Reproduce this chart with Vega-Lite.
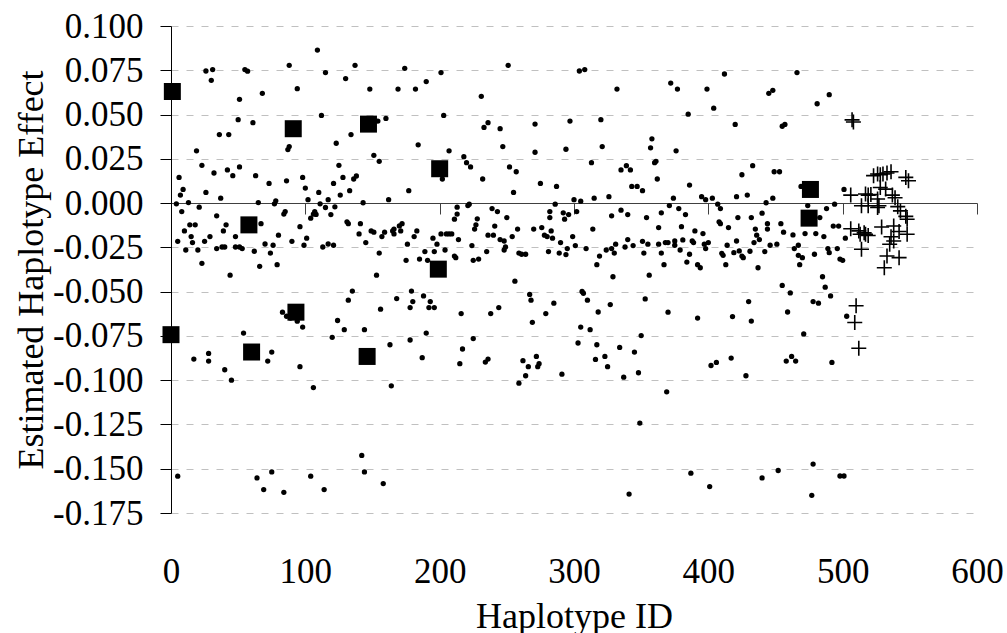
{
  "$schema": "https://vega.github.io/schema/vega-lite/v6.json",
  "width": 806,
  "height": 487,
  "autosize": "none",
  "padding": {"left": 171, "top": 26, "right": 30, "bottom": 120},
  "background": "white",
  "config": {
    "font": "Liberation Serif",
    "view": {"stroke": null},
    "axis": {
      "labelFont": "Liberation Serif",
      "titleFont": "Liberation Serif",
      "labelColor": "black",
      "titleColor": "black",
      "titleFontWeight": "normal",
      "labelFontSize": 35,
      "titleFontSize": 36,
      "labelFlush": false,
      "labelOverlap": false
    }
  },
  "datasets": {
    "dots": [
      {"id":109,"effect":0.0864},{"id":88,"effect":0.0778},{"id":26,"effect":0.0746},{"id":31,"effect":0.0754},{"id":30,"effect":0.0693},
      {"id":55,"effect":0.0754},{"id":57,"effect":0.0745},{"id":115,"effect":0.0737},{"id":94,"effect":0.0646},{"id":68,"effect":0.062},
      {"id":51,"effect":0.0586},{"id":112,"effect":0.0495},{"id":50,"effect":0.0471},{"id":61,"effect":0.0454},{"id":36,"effect":0.0387},
      {"id":43,"effect":0.0387},{"id":123,"effect":0.0338},{"id":88,"effect":0.0319},{"id":87,"effect":0.0302},{"id":19,"effect":0.0295},
      {"id":23,"effect":0.0213},{"id":51,"effect":0.0204},{"id":125,"effect":0.0213},{"id":42,"effect":0.0187},{"id":46,"effect":0.0155},
      {"id":32,"effect":0.017},{"id":6,"effect":0.0145},{"id":63,"effect":0.0155},{"id":86,"effect":0.0126},{"id":98,"effect":0.0145},
      {"id":73,"effect":0.0111},{"id":121,"effect":0.0111},{"id":9,"effect":0.0077},{"id":7,"effect":0.0045},{"id":26,"effect":0.006},
      {"id":100,"effect":0.0085},{"id":110,"effect":0.006},{"id":37,"effect":0.0028},{"id":102,"effect":0.0019},{"id":117,"effect":0.0019},
      {"id":126,"effect":0.0045},{"id":4,"effect":-0.0004},{"id":13,"effect":0.0003},{"id":65,"effect":0.0003},{"id":78,"effect":0.0013},
      {"id":77,"effect":-0.0004},{"id":111,"effect":-0.0004},{"id":8,"effect":-0.0048},{"id":21,"effect":-0.0023},{"id":34,"effect":-0.0072},
      {"id":85,"effect":-0.0048},{"id":84,"effect":-0.0062},{"id":107,"effect":-0.0048},{"id":106,"effect":-0.0062},{"id":108,"effect":-0.0064},
      {"id":115,"effect":-0.0025},{"id":104,"effect":-0.0085},{"id":119,"effect":-0.0065},{"id":122,"effect":-0.0021},
      {"id":96,"effect":-0.0133},{"id":67,"effect":-0.0116},{"id":14,"effect":-0.0123},{"id":18,"effect":-0.0123},{"id":10,"effect":-0.0157},
      {"id":41,"effect":-0.0123},{"id":39,"effect":-0.0157},{"id":15,"effect":-0.0189},{"id":29,"effect":-0.0189},{"id":48,"effect":-0.0189},
      {"id":80,"effect":-0.0181},{"id":101,"effect":-0.0198},{"id":5,"effect":-0.0216},{"id":16,"effect":-0.0223},{"id":25,"effect":-0.0216},
      {"id":90,"effect":-0.0216},{"id":11,"effect":-0.0265},{"id":20,"effect":-0.0265},{"id":34,"effect":-0.0257},{"id":38,"effect":-0.0248},
      {"id":40,"effect":-0.0248},{"id":48,"effect":-0.0248},{"id":53,"effect":-0.0257},{"id":51,"effect":-0.0248},{"id":62,"effect":-0.0272},
      {"id":70,"effect":-0.0231},{"id":76,"effect":-0.0238},{"id":74,"effect":-0.0282},{"id":99,"effect":-0.0238},{"id":113,"effect":-0.0248},
      {"id":117,"effect":-0.0231},{"id":121,"effect":-0.0238},{"id":23,"effect":-0.034},{"id":66,"effect":-0.0357},{"id":79,"effect":-0.0348},
      {"id":44,"effect":-0.0407},{"id":83,"effect":-0.0616},{"id":86,"effect":-0.0639},{"id":89,"effect":-0.0649},{"id":94,"effect":-0.0667},
      {"id":98,"effect":-0.07},{"id":124,"effect":-0.0663},{"id":120,"effect":-0.0758},{"id":54,"effect":-0.0734},{"id":75,"effect":-0.0841},
      {"id":17,"effect":-0.0881},{"id":28,"effect":-0.0849},{"id":28,"effect":-0.0892},{"id":72,"effect":-0.0892},{"id":96,"effect":-0.0924},
      {"id":40,"effect":-0.0941},{"id":45,"effect":-0.1},{"id":106,"effect":-0.1042},
      {"id":5,"effect":-0.1542},{"id":64,"effect":-0.1552},{"id":75,"effect":-0.1518},{"id":69,"effect":-0.1618},{"id":84,"effect":-0.1633},
      {"id":104,"effect":-0.1542},{"id":114,"effect":-0.1618},{"id":142,"effect":-0.1425},{"id":144,"effect":-0.1518},{"id":158,"effect":-0.1584},
      {"id":341,"effect":-0.1643},{"id":349,"effect":-0.1242},{"id":387,"effect":-0.1525},{"id":401,"effect":-0.1601},{"id":440,"effect":-0.1552},
      {"id":452,"effect":-0.151},{"id":478,"effect":-0.1474},{"id":477,"effect":-0.165},{"id":498,"effect":-0.1541},{"id":501,"effect":-0.1541},
      {"id":137,"effect":0.0778},{"id":174,"effect":0.0761},{"id":201,"effect":0.0737},{"id":251,"effect":0.0778},{"id":304,"effect":0.0746},
      {"id":308,"effect":0.0754},{"id":372,"effect":0.0678},{"id":130,"effect":0.0703},{"id":148,"effect":0.0644},{"id":169,"effect":0.0644},
      {"id":182,"effect":0.0644},{"id":190,"effect":0.0686},{"id":332,"effect":0.0644},{"id":231,"effect":0.0603},{"id":203,"effect":0.0495},
      {"id":154,"effect":0.0463},{"id":160,"effect":0.0478},{"id":134,"effect":0.0387},{"id":233,"effect":0.0427},{"id":236,"effect":0.0454},
      {"id":245,"effect":0.042},{"id":271,"effect":0.0446},{"id":297,"effect":0.0463},{"id":320,"effect":0.0471},{"id":358,"effect":0.0363},
      {"id":357,"effect":0.0312},{"id":184,"effect":0.0329},{"id":247,"effect":0.0319},{"id":207,"effect":0.0295},{"id":271,"effect":0.0287},
      {"id":294,"effect":0.0304},{"id":321,"effect":0.0319},{"id":151,"effect":0.027},{"id":155,"effect":0.0236},{"id":202,"effect":0.0136},
      {"id":218,"effect":0.0262},{"id":220,"effect":0.0228},{"id":223,"effect":0.0204},{"id":128,"effect":0.0145},{"id":136,"effect":0.0136},
      {"id":138,"effect":0.0153},{"id":133,"effect":0.007},{"id":143,"effect":0.0002},{"id":162,"effect":0.0019},{"id":177,"effect":0.007},
      {"id":232,"effect":0.0136},{"id":252,"effect":0.0204},{"id":257,"effect":0.0177},{"id":255,"effect":0.006},{"id":275,"effect":0.0111},
      {"id":287,"effect":0.0094},{"id":286,"effect":-0.0006},{"id":300,"effect":0.0019},{"id":305,"effect":0.0011},{"id":313,"effect":0.0228},
      {"id":335,"effect":0.0187},{"id":339,"effect":0.0211},{"id":342,"effect":0.0187},{"id":343,"effect":0.0094},{"id":347,"effect":0.0094},
      {"id":351,"effect":0.007},{"id":360,"effect":0.0228},{"id":361,"effect":0.0236},{"id":362,"effect":0.0136},{"id":315,"effect":0.0028},
      {"id":326,"effect":0.0036},{"id":371,"effect":-0.0014},{"id":213,"effect":-0.0023},{"id":213,"effect":-0.0062},{"id":211,"effect":-0.0091},
      {"id":221,"effect":-0.0014},{"id":222,"effect":-0.0006},{"id":228,"effect":-0.0089},{"id":239,"effect":-0.0031},{"id":243,"effect":-0.0048},
      {"id":250,"effect":-0.0082},{"id":282,"effect":-0.0048},{"id":282,"effect":-0.0082},{"id":292,"effect":-0.0055},{"id":296,"effect":-0.0065},
      {"id":293,"effect":-0.0091},{"id":302,"effect":-0.0048},{"id":328,"effect":-0.0072},{"id":335,"effect":-0.004},{"id":340,"effect":-0.0065},
      {"id":354,"effect":-0.0082},{"id":365,"effect":-0.0055},
      {"id":227,"effect":-0.0123},{"id":226,"effect":-0.0147},{"id":241,"effect":-0.013},{"id":236,"effect":-0.0181},{"id":240,"effect":-0.0181},
      {"id":254,"effect":-0.0189},{"id":258,"effect":-0.0147},{"id":245,"effect":-0.0206},{"id":248,"effect":-0.0214},{"id":249,"effect":-0.0248},
      {"id":248,"effect":-0.0265},{"id":235,"effect":-0.0274},{"id":229,"effect":-0.0316},{"id":225,"effect":-0.0323},{"id":224,"effect":-0.024},
      {"id":214,"effect":-0.0206},{"id":211,"effect":-0.0299},{"id":212,"effect":-0.0308},{"id":204,"effect":-0.0265},{"id":201,"effect":-0.0174},
      {"id":205,"effect":-0.0174},{"id":207,"effect":-0.0174},{"id":209,"effect":-0.0174},{"id":195,"effect":-0.0198},{"id":198,"effect":-0.0232},
      {"id":196,"effect":-0.0274},{"id":189,"effect":-0.0274},{"id":185,"effect":-0.0316},{"id":191,"effect":-0.0323},{"id":175,"effect":-0.0323},
      {"id":176,"effect":-0.0232},{"id":181,"effect":-0.0189},{"id":183,"effect":-0.0157},{"id":166,"effect":-0.0174},{"id":165,"effect":-0.0157},
      {"id":166,"effect":-0.0147},{"id":170,"effect":-0.0129},{"id":172,"effect":-0.0116},{"id":171,"effect":-0.0157},{"id":159,"effect":-0.0164},
      {"id":157,"effect":-0.0189},{"id":149,"effect":-0.0157},{"id":151,"effect":-0.0164},{"id":141,"effect":-0.0116},{"id":140,"effect":-0.0174},
      {"id":131,"effect":-0.0106},{"id":132,"effect":-0.0116},{"id":145,"effect":-0.0223},{"id":155,"effect":-0.0282},{"id":153,"effect":-0.0407},
      {"id":135,"effect":-0.0497},{"id":132,"effect":-0.0548},{"id":156,"effect":-0.0599},{"id":179,"effect":-0.0497},{"id":180,"effect":-0.0556},
      {"id":178,"effect":-0.059},{"id":168,"effect":-0.0539},{"id":188,"effect":-0.0524},{"id":193,"effect":-0.0556},{"id":192,"effect":-0.059},
      {"id":196,"effect":-0.059},{"id":129,"effect":-0.0715},{"id":144,"effect":-0.0715},{"id":190,"effect":-0.0734},{"id":178,"effect":-0.0773},
      {"id":163,"effect":-0.08},{"id":187,"effect":-0.0873},{"id":164,"effect":-0.1032},{"id":216,"effect":-0.0624},{"id":238,"effect":-0.0624},
      {"id":244,"effect":-0.059},{"id":225,"effect":-0.0765},{"id":217,"effect":-0.0824},{"id":215,"effect":-0.0907},{"id":234,"effect":-0.0898},
      {"id":236,"effect":-0.0881},{"id":256,"effect":-0.0441},{"id":259,"effect":-0.0282},{"id":261,"effect":-0.0289},{"id":264,"effect":-0.0289},
      {"id":270,"effect":-0.0147},{"id":276,"effect":-0.0138},{"id":278,"effect":-0.0181},{"id":280,"effect":-0.0189},{"id":283,"effect":-0.0157},
      {"id":284,"effect":-0.0198},{"id":281,"effect":-0.0274},{"id":290,"effect":-0.0223},{"id":289,"effect":-0.0282},{"id":294,"effect":-0.0291},
      {"id":295,"effect":-0.0257},{"id":299,"effect":-0.0189},{"id":301,"effect":-0.024},{"id":309,"effect":-0.0257},{"id":314,"effect":-0.0147},
      {"id":319,"effect":-0.0299},{"id":317,"effect":-0.0348},{"id":324,"effect":-0.0265},{"id":328,"effect":-0.0257},{"id":330,"effect":-0.0282},
      {"id":331,"effect":-0.0232},{"id":329,"effect":-0.0416},{"id":338,"effect":-0.0248},{"id":340,"effect":-0.0206},{"id":344,"effect":-0.024},
      {"id":351,"effect":-0.0216},{"id":352,"effect":-0.0282},{"id":355,"effect":-0.0232},{"id":356,"effect":-0.0407},{"id":363,"effect":-0.0138},
      {"id":363,"effect":-0.0232},{"id":365,"effect":-0.0282},{"id":367,"effect":-0.0348},{"id":368,"effect":-0.0223},{"id":370,"effect":-0.0223},
      {"id":267,"effect":-0.0516},{"id":268,"effect":-0.0548},{"id":269,"effect":-0.0673},{"id":279,"effect":-0.0624},{"id":285,"effect":-0.0565},
      {"id":306,"effect":-0.0499},{"id":307,"effect":-0.0509},{"id":310,"effect":-0.0548},{"id":318,"effect":-0.0615},{"id":327,"effect":-0.0573},
      {"id":305,"effect":-0.07},{"id":312,"effect":-0.0715},{"id":303,"effect":-0.079},{"id":317,"effect":-0.08},{"id":353,"effect":-0.0541},
      {"id":370,"effect":-0.0616},{"id":350,"effect":-0.0748},{"id":334,"effect":-0.0815},{"id":345,"effect":-0.0841},{"id":316,"effect":-0.0883},
      {"id":323,"effect":-0.0866},{"id":325,"effect":-0.0924},{"id":262,"effect":-0.089},{"id":266,"effect":-0.0924},{"id":272,"effect":-0.0866},
      {"id":274,"effect":-0.0907},{"id":273,"effect":-0.0924},{"id":264,"effect":-0.0975},{"id":259,"effect":-0.1017},{"id":291,"effect":-0.0966},
      {"id":337,"effect":-0.0983},{"id":348,"effect":-0.0958},{"id":369,"effect":-0.1066},
      {"id":377,"effect":0.0644},{"id":399,"effect":0.0644},{"id":412,"effect":0.0729},{"id":466,"effect":0.0737},{"id":445,"effect":0.062},
      {"id":448,"effect":0.0637},{"id":490,"effect":0.0612},{"id":481,"effect":0.0561},{"id":385,"effect":0.0502},{"id":404,"effect":0.0536},
      {"id":420,"effect":0.0444},{"id":455,"effect":0.0434},{"id":457,"effect":0.0444},{"id":376,"effect":0.0295},{"id":433,"effect":0.0211},
      {"id":425,"effect":0.016},{"id":449,"effect":0.0177},{"id":453,"effect":0.0177},{"id":386,"effect":0.0102},{"id":374,"effect":0.0028},
      {"id":395,"effect":0.0036},{"id":398,"effect":0.0019},{"id":403,"effect":0.0028},{"id":421,"effect":0.0036},{"id":429,"effect":0.0045},
      {"id":448,"effect":0.0028},{"id":443,"effect":0.0002},{"id":407,"effect":-0.0006},{"id":409,"effect":-0.0031},{"id":469,"effect":0.0094},
      {"id":474,"effect":-0.0014},{"id":488,"effect":-0.0031},{"id":494,"effect":-0.0006},{"id":501,"effect":0.0077},{"id":378,"effect":-0.0031},
      {"id":383,"effect":-0.0065},
      {"id":380,"effect":-0.0133},{"id":390,"effect":-0.0157},{"id":396,"effect":-0.0172},{"id":375,"effect":-0.0214},{"id":375,"effect":-0.0238},
      {"id":381,"effect":-0.0208},{"id":379,"effect":-0.0265},{"id":386,"effect":-0.0289},{"id":388,"effect":-0.0214},{"id":389,"effect":-0.0223},
      {"id":397,"effect":-0.0232},{"id":400,"effect":-0.0223},{"id":398,"effect":-0.0257},{"id":384,"effect":-0.0333},{"id":392,"effect":-0.0348},
      {"id":394,"effect":-0.0365},{"id":408,"effect":-0.0106},{"id":409,"effect":-0.0116},{"id":415,"effect":-0.0138},{"id":422,"effect":-0.0082},
      {"id":432,"effect":-0.0082},{"id":440,"effect":-0.0057},{"id":410,"effect":-0.0284},{"id":411,"effect":-0.0295},{"id":413,"effect":-0.0348},
      {"id":414,"effect":-0.0238},{"id":419,"effect":-0.028},{"id":421,"effect":-0.0214},{"id":423,"effect":-0.027},{"id":425,"effect":-0.0299},
      {"id":426,"effect":-0.0308},{"id":431,"effect":-0.0272},{"id":434,"effect":-0.0223},{"id":436,"effect":-0.0181},{"id":438,"effect":-0.0206},
      {"id":442,"effect":-0.0274},{"id":435,"effect":-0.0147},{"id":444,"effect":-0.0147},{"id":444,"effect":-0.0116},{"id":437,"effect":-0.0365},
      {"id":446,"effect":-0.0238},{"id":451,"effect":-0.0232},{"id":454,"effect":-0.0116},{"id":456,"effect":-0.0164},{"id":463,"effect":-0.018},
      {"id":464,"effect":-0.0257},{"id":467,"effect":-0.0238},{"id":467,"effect":-0.0295},{"id":470,"effect":-0.0308},{"id":468,"effect":-0.0348},
      {"id":472,"effect":-0.0172},{"id":480,"effect":-0.0172},{"id":486,"effect":-0.0189},{"id":483,"effect":-0.0082},{"id":479,"effect":-0.0289},
      {"id":489,"effect":-0.0257},{"id":490,"effect":-0.028},{"id":493,"effect":-0.013},{"id":497,"effect":-0.013},{"id":496,"effect":-0.0257},
      {"id":498,"effect":-0.0316},{"id":500,"effect":-0.0323},{"id":502,"effect":-0.0198},{"id":455,"effect":-0.0465},{"id":461,"effect":-0.0507},
      {"id":485,"effect":-0.0416},{"id":487,"effect":-0.0475},{"id":491,"effect":-0.0524},{"id":478,"effect":-0.0556},{"id":482,"effect":-0.0565},
      {"id":430,"effect":-0.0556},{"id":459,"effect":-0.0615},{"id":503,"effect":-0.0639},{"id":392,"effect":-0.0649},{"id":418,"effect":-0.0641},
      {"id":432,"effect":-0.0666},{"id":471,"effect":-0.0739},{"id":402,"effect":-0.0917},{"id":406,"effect":-0.09},{"id":417,"effect":-0.0875},
      {"id":458,"effect":-0.0892},{"id":462,"effect":-0.0866},{"id":465,"effect":-0.0892},{"id":492,"effect":-0.09},{"id":428,"effect":-0.0975}
    ],
    "squares": [
      {"id":1,"effect":0.063},{"id":0,"effect":-0.0743},{"id":58,"effect":-0.0123},{"id":60,"effect":-0.0841},
      {"id":91,"effect":0.042},{"id":93,"effect":-0.0616},{"id":147,"effect":0.0446},{"id":146,"effect":-0.0866},
      {"id":200,"effect":0.0194},{"id":199,"effect":-0.0373},{"id":476,"effect":0.0077},{"id":475,"effect":-0.0085}
    ],
    "plus": [
      {"id":507,"effect":0.047},{"id":508,"effect":0.0458},
      {"id":523,"effect":0.0155},{"id":526,"effect":0.0164},{"id":528,"effect":0.016},{"id":530,"effect":0.0164},{"id":536,"effect":0.0177},
      {"id":533,"effect":0.017},{"id":547,"effect":0.0145},{"id":549,"effect":0.0126},
      {"id":506,"effect":0.0045},{"id":517,"effect":0.0051},{"id":519,"effect":0.0045},{"id":521,"effect":0.0048},{"id":528,"effect":0.0088},
      {"id":532,"effect":0.0079},{"id":537,"effect":0.0045},{"id":526,"effect":0.0023},{"id":539,"effect":0.003},
      {"id":514,"effect":-0.0015},{"id":519,"effect":-0.0015},{"id":527,"effect":-0.0015},{"id":526,"effect":-0.0025},{"id":541,"effect":-0.002},
      {"id":543,"effect":-0.0044},{"id":547,"effect":-0.0075},{"id":548,"effect":-0.0091},
      {"id":506,"effect":-0.0145},{"id":512,"effect":-0.0157},{"id":513,"effect":-0.0176},{"id":516,"effect":-0.0168},{"id":517,"effect":-0.0176},
      {"id":519,"effect":-0.0183},{"id":529,"effect":-0.0135},{"id":538,"effect":-0.0129},{"id":542,"effect":-0.016},{"id":548,"effect":-0.0176},
      {"id":536,"effect":-0.019},{"id":538,"effect":-0.0214},{"id":535,"effect":-0.0232},{"id":514,"effect":-0.0261},{"id":533,"effect":-0.0299},
      {"id":542,"effect":-0.0308},{"id":531,"effect":-0.0365},
      {"id":510,"effect":-0.058},{"id":509,"effect":-0.0674},{"id":512,"effect":-0.082}
    ]
  },
  "layer": [
    {
      "data": {"name": "dots"},
      "mark": {"type": "point", "shape": "circle", "filled": true, "size": 28, "color": "black", "opacity": 1},
      "encoding": {
        "x": {
          "field": "id", "type": "quantitative",
          "scale": {"domain": [0, 600], "nice": false, "zero": false},
          "axis": {
            "values": [0, 100, 200, 300, 400, 500, 600],
            "format": "d",
            "domain": false, "ticks": false, "tickSize": 0, "grid": false,
            "labelPadding": 41,
            "title": "Haplotype ID",
            "titleX": 403, "titleY": 114, "titleBaseline": "alphabetic"
          }
        },
        "y": {
          "field": "effect", "type": "quantitative",
          "scale": {"domain": [-0.175, 0.1], "nice": false, "zero": false},
          "axis": {
            "values": [0.1, 0.075, 0.05, 0.025, 0, -0.025, -0.05, -0.075, -0.1, -0.125, -0.15, -0.175],
            "labelExpr": "replace(format(datum.value, '.3f'), '\u2212', '-')",
            "domain": true, "domainColor": "black", "domainWidth": 1,
            "ticks": true, "tickSize": 11, "tickColor": "black", "tickWidth": 1,
            "labelPadding": 17,
            "grid": true, "gridColor": "#c0c0c0", "gridDash": [7, 8], "gridWidth": 1,
            "title": "Estimated Haplotype Effect",
            "titleX": -129, "titleY": 243.5, "titleBaseline": "alphabetic", "titleAlign": "center", "titleAngle": 270
          }
        }
      }
    },
    {
      "data": {"name": "squares"},
      "mark": {"type": "point", "shape": "square", "filled": true, "size": 289, "color": "black", "opacity": 1},
      "encoding": {
        "x": {"field": "id", "type": "quantitative", "scale": {"domain": [0, 600], "nice": false, "zero": false}, "axis": null},
        "y": {"field": "effect", "type": "quantitative", "scale": {"domain": [-0.175, 0.1], "nice": false, "zero": false}}
      }
    },
    {
      "data": {"name": "plus"},
      "mark": {"type": "point", "shape": "M-1,0L1,0M0,-1L0,1", "filled": false, "size": 225, "stroke": "black", "strokeWidth": 1.6, "opacity": 1},
      "encoding": {
        "x": {"field": "id", "type": "quantitative", "scale": {"domain": [0, 600], "nice": false, "zero": false}, "axis": null},
        "y": {"field": "effect", "type": "quantitative", "scale": {"domain": [-0.175, 0.1], "nice": false, "zero": false}}
      }
    },
    {
      "data": {"name": "squares"},
      "mark": {"type": "point", "opacity": 0},
      "encoding": {
        "x": {
          "field": "id", "type": "quantitative",
          "scale": {"domain": [0, 600], "nice": false, "zero": false},
          "axis": {
            "orient": "bottom", "offset": -310,
            "values": [0, 100, 200, 300, 400, 500, 600],
            "labels": false, "title": null, "grid": false,
            "domain": true, "domainColor": "#404040", "domainWidth": 1,
            "ticks": true, "tickSize": 11, "tickColor": "#404040", "tickWidth": 1
          }
        },
        "y": {"field": "effect", "type": "quantitative", "scale": {"domain": [-0.175, 0.1], "nice": false, "zero": false}}
      }
    }
  ],
  "resolve": {"axis": {"x": "independent"}}
}
